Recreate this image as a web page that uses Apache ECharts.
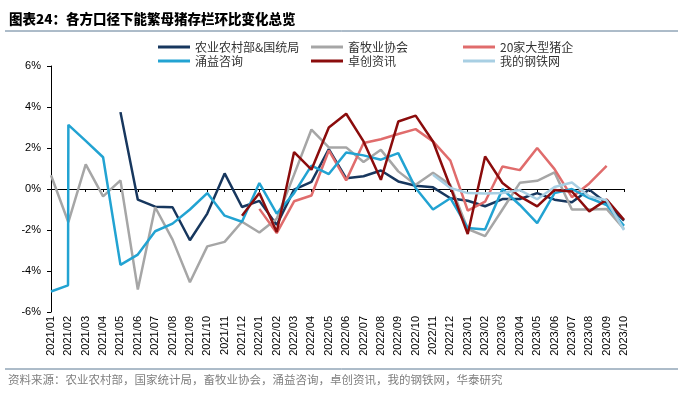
<!DOCTYPE html>
<html>
<head>
<meta charset="utf-8">
<script src="https://cdn.jsdelivr.net/npm/echarts@6/dist/echarts.min.js"></script>
<style>
html,body{margin:0;padding:0;background:#fff;}
#chart{width:683px;height:398px;}
</style>
</head>
<body>
<div id="chart"></div>
<script>
var months = ['2021/01','2021/02','2021/03','2021/04','2021/05','2021/06','2021/07','2021/08','2021/09','2021/10','2021/11','2021/12',
    '2022/01','2022/02','2022/03','2022/04','2022/05','2022/06','2022/07','2022/08','2022/09','2022/10','2022/11','2022/12',
    '2023/01','2023/02','2023/03','2023/04','2023/05','2023/06','2023/07','2023/08','2023/09','2023/10'];
var yTicks = [-6, -4, -2, 0, 2, 4, 6];

// 环比变化 %
var nongye = [null,null,null,null,3.75,-0.52,-0.86,-0.89,-2.5,-1.2,0.76,-0.88,-0.58,-1.75,-0.03,0.35,1.95,0.52,0.62,0.9,0.37,0.16,0.08,-0.45,-0.57,-0.84,-0.49,-0.49,-0.2,-0.52,-0.65,-0.03,-0.7,-1.54];
var xumu = [0.67,-1.62,1.2,-0.36,0.42,-4.9,-0.89,-2.47,-4.55,-2.8,-2.58,-1.6,-2.12,-1.45,0.7,2.9,2.03,2.03,1.32,1.91,0.86,0.21,0.79,0.2,-1.95,-2.3,-1.0,0.3,0.4,0.81,-1.0,-1.0,-0.97,-1.95];
var dajia = [null,null,null,null,null,null,null,null,null,null,null,null,-0.97,-2.15,-0.6,-0.32,1.88,0.42,2.24,2.43,2.68,2.92,2.32,1.38,-1.05,-0.62,1.1,0.92,2.0,0.97,-0.4,0.27,1.13,null];
var yongyi = [-5.0,3.13,2.35,1.55,-3.7,-3.2,-2.06,-1.69,-1.0,-0.2,-1.3,-1.6,0.29,-1.2,-0.2,1.14,0.73,1.78,1.64,1.43,1.75,0.05,-1.0,-0.45,-1.9,-1.98,0,-0.78,-1.66,-0.2,0,-0.44,-0.78,-1.8];
var yongyiStep = [0.98, -4.7];   // 涌益 2021/02 前的一个读数（竖直跳升）
var zhuochuang = [null,null,null,null,null,null,null,null,null,null,null,-1.3,-0.2,-2.1,1.8,0.94,3.0,3.67,2.32,0.45,3.29,3.58,2.32,0.1,-2.2,1.59,0.29,-0.36,-0.85,-0.05,-0.12,-1.09,-0.52,-1.5];
var gangtie = [null,null,null,null,null,null,null,null,null,null,null,null,null,null,null,null,null,null,null,null,null,null,0.7,0.05,-0.2,-0.22,-0.2,-0.05,-0.5,0.1,0.32,-0.36,-0.55,-2.0];

var names = ['农业农村部&国统局','畜牧业协会','20家大型猪企','涌益咨询','卓创资讯','我的钢铁网'];
var colors = ['#17375e','#a6a6a6','#e06c6c','#22a3d2','#8b0c0c','#a8cfe3'];

function toPoints(arr){
    var out = [];
    arr.forEach(function(v, i){ if (v !== null) out.push([i, v]); });
    return out;
}
var yongyiPts = toPoints(yongyi);
yongyiPts.splice(1, 0, yongyiStep);

var seriesData = [toPoints(nongye), toPoints(xumu), toPoints(dajia), yongyiPts, toPoints(zhuochuang), toPoints(gangtie)];

var myChart = echarts.init(document.getElementById('chart'));
var legendX = [153, 306, 458];
var legendY = [36, 50];

var option = {
    backgroundColor: '#fff',
    animation: false,
    color: colors,
    textStyle: { fontFamily: 'Liberation Sans, "Noto Sans CJK SC"' },
    graphic: [
        { type: 'text', left: 9, top: 12, style: { text: '图表24：各方口径下能繁母猪存栏环比变化总览', font: '900 13.5px "Noto Sans CJK SC"', fill: '#000' } },
        { type: 'line', shape: { x1: 5, y1: 31, x2: 678, y2: 31 }, style: { stroke: '#5b7893', lineWidth: 1 } },
        { type: 'line', shape: { x1: 5, y1: 369, x2: 678, y2: 369 }, style: { stroke: '#5b7893', lineWidth: 1 } },
        { type: 'text', left: 8, top: 374, style: { text: '资料来源：农业农村部，国家统计局，畜牧业协会，涌益咨询，卓创资讯，我的钢铁网，华泰研究', font: '11.5px "Noto Sans CJK SC"', fill: '#808080' } }
    ],
    legend: names.map(function(n, k){
        return {
            data: [n],
            left: legendX[k % 3],
            top: legendY[Math.floor(k / 3)],
            icon: 'rect',
            itemWidth: 32,
            itemHeight: 3,
            textStyle: { fontSize: 12, color: '#333', fontFamily: '"Noto Sans CJK SC"' }
        };
    }),
    grid: { left: 51, right: 59, top: 66, bottom: 86 },
    xAxis: [
        {
            type: 'value',
            min: 0, max: months.length - 1, interval: 1,
            position: 'bottom',
            axisLine: { show: false, onZero: false },
            axisTick: { show: false },
            splitLine: { show: false },
            axisLabel: {
                rotate: 90, margin: 4, fontSize: 11, color: '#000',
                formatter: function(v){ return months[v] || ''; }
            }
        },
        {
            type: 'value',
            min: 0, max: months.length - 1, interval: 1,
            position: 'top',
            axisLine: { show: true, onZero: true, lineStyle: { color: '#000', width: 1 } },
            axisTick: { show: true, inside: true, length: 3, lineStyle: { color: '#000' } },
            splitLine: { show: false },
            axisLabel: { show: false }
        }
    ],
    yAxis: {
        type: 'value',
        min: yTicks[0], max: yTicks[yTicks.length - 1], interval: 2,
        axisLine: { show: true, lineStyle: { color: '#000', width: 1 } },
        axisTick: { show: true, length: 4, lineStyle: { color: '#000' } },
        splitLine: { show: false },
        axisLabel: { formatter: '{value}%', fontSize: 11, color: '#000', margin: 10 }
    },
    series: names.map(function(n, k){
        return {
            name: n,
            type: 'line',
            xAxisIndex: 0,
            data: seriesData[k],
            showSymbol: false,
            lineStyle: { width: 2.5, color: colors[k] },
            itemStyle: { color: colors[k] }
        };
    })
};

myChart.setOption(option);
</script>
</body>
</html>
